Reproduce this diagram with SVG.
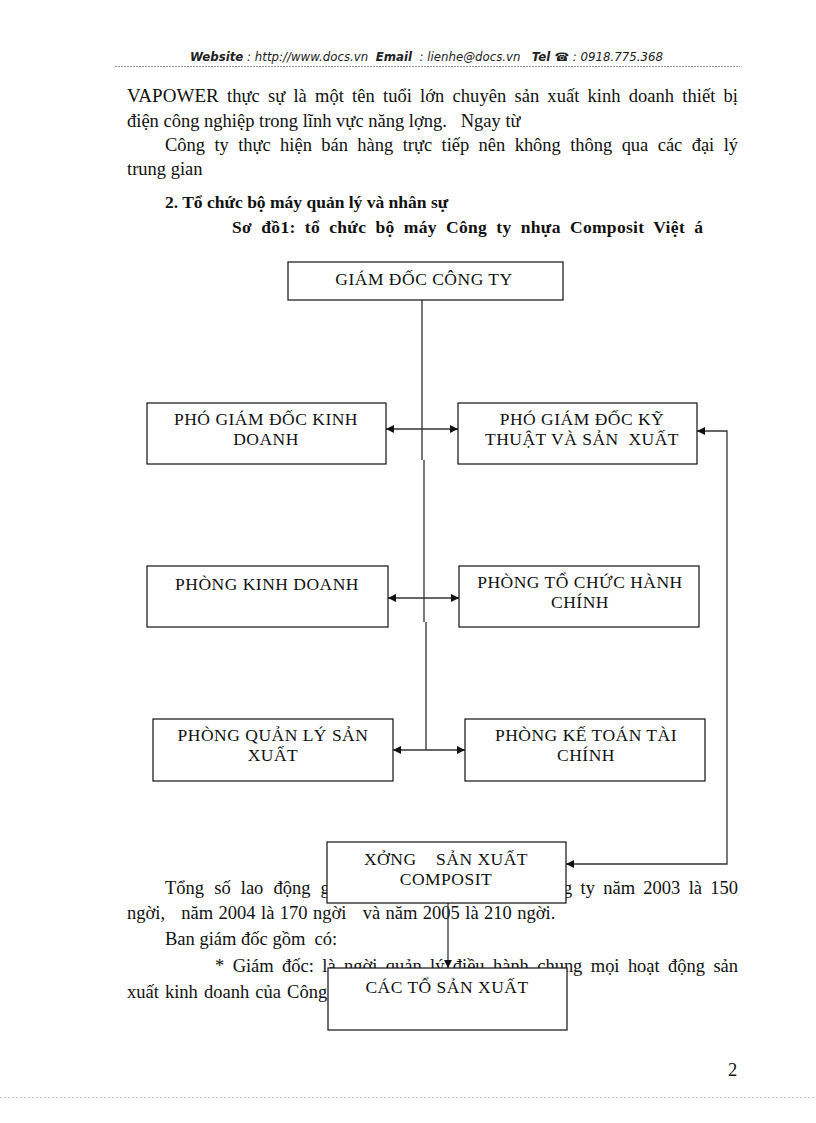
<svg xmlns="http://www.w3.org/2000/svg" width="816" height="1123" viewBox="0 0 816 1123">
<style>
.hdr{font-family:"DejaVu Sans",Verdana,sans-serif;font-size:11.5px;font-style:italic;fill:#222}
.hb{font-weight:bold}
.body{font-family:"Liberation Serif","Times New Roman",serif;font-size:18.5px;fill:#111}
.bold{font-weight:bold;font-size:17.5px}
.box{fill:#fff;stroke:#111;stroke-width:1.2}
.lbl{font-family:"Liberation Serif","Times New Roman",serif;font-size:17.5px;letter-spacing:0.5px;fill:#111;text-anchor:middle}
.con{fill:none;stroke:#333;stroke-width:1.3}
</style>
<defs>
<marker id="ah" viewBox="0 0 10 10" refX="10" refY="5" markerWidth="9" markerHeight="8" markerUnits="userSpaceOnUse" orient="auto-start-reverse">
<path d="M0,0 L10,5 L0,10 z" fill="#111"/>
</marker>
</defs>
<rect width="816" height="1123" fill="#fff"/>
<g id="header">
<text class="hdr" x="190" y="61" textLength="473" lengthAdjust="spacingAndGlyphs" xml:space="preserve"><tspan class="hb">Website</tspan> : http://www.docs.vn  <tspan class="hb">Email</tspan>  : lienhe@docs.vn   <tspan class="hb">Tel ☎</tspan> : 0918.775.368</text>
<line x1="115" y1="66.5" x2="740" y2="66.5" stroke="#999" stroke-width="1" stroke-dasharray="2 1"/>
</g>
<g id="body-text">
<text class="body" x="127" y="102" word-spacing="3.5" textLength="611" lengthAdjust="spacing"><tspan font-size="19">VAPOWER</tspan> thực sự là một tên tuổi lớn chuyên sản xuất kinh doanh thiết bị</text>
<text class="body" x="127" y="127" xml:space="preserve">điện công nghiệp trong lĩnh vực năng lợng.   Ngay từ</text>
<text class="body" x="165" y="151" word-spacing="4.8" textLength="573" lengthAdjust="spacing">Công ty thực hiện bán hàng trực tiếp nên không thông qua các đại lý</text>
<text class="body" x="127" y="175">trung gian</text>
<text class="body bold" x="165" y="208">2. Tổ chức bộ máy quản lý và nhân sự</text>
<text class="body bold" x="232" y="233" word-spacing="4.5" textLength="471" lengthAdjust="spacing">Sơ đồ1: tổ chức bộ máy Công ty nhựa Composit Việt á</text>
<text class="body" x="165" y="894" word-spacing="5.5">Tổng số lao động g</text>
<text class="body" x="563" y="894" word-spacing="3.7" textLength="175" lengthAdjust="spacing">g ty năm 2003 là 150</text>
<text class="body" x="127" y="919" xml:space="preserve" word-spacing="0.8">ngời,   năm 2004 là 170 ngời   và năm 2005 là 210 ngời.</text>
<text class="body" x="165" y="945" xml:space="preserve">Ban giám đốc gồm  có:</text>
<text class="body" x="215" y="972" word-spacing="3.8" textLength="523" lengthAdjust="spacing">* Giám đốc: là ngời quản lý điều hành chung mọi hoạt động sản</text>
<text class="body" x="127" y="998" word-spacing="1.5">xuất kinh doanh của Công</text>
<text class="body" x="728" y="1076">2</text>
<line x1="0" y1="1097.5" x2="816" y2="1097.5" stroke="#ccc" stroke-width="1" stroke-dasharray="2 2"/>
</g>
<g id="connectors">
<path class="con" d="M422,300 V460 M424,460 V622 M426,622 V750"/>
<line class="con" x1="386" y1="429" x2="458" y2="429" marker-start="url(#ah)" marker-end="url(#ah)"/>
<line class="con" x1="388" y1="598" x2="459" y2="598" marker-start="url(#ah)" marker-end="url(#ah)"/>
<line class="con" x1="393" y1="750" x2="465" y2="750" marker-start="url(#ah)" marker-end="url(#ah)"/>
<path class="con" d="M697,431 H727 V864 H566" marker-start="url(#ah)" marker-end="url(#ah)"/>
<line class="con" x1="448" y1="903" x2="448" y2="968" marker-end="url(#ah)"/>
</g>
<g id="node-gd"><rect class="box" x="288" y="262" width="275" height="38"/><text class="lbl" x="424" y="285">GIÁM ĐỐC CÔNG TY</text></g>
<g id="node-pgd-kd"><rect class="box" x="147" y="403" width="239" height="61"/><text class="lbl" x="266" y="425">PHÓ GIÁM ĐỐC KINH<tspan x="266" dy="19.5">DOANH</tspan></text></g>
<g id="node-pgd-kt"><rect class="box" x="458" y="403" width="239" height="61"/><text class="lbl" x="582" y="425" xml:space="preserve">PHÓ GIÁM ĐỐC KỸ<tspan x="582" dy="19.5">THUẬT VÀ SẢN  XUẤT</tspan></text></g>
<g id="node-p-kd"><rect class="box" x="147" y="566" width="241" height="61"/><text class="lbl" x="267" y="590">PHÒNG KINH DOANH</text></g>
<g id="node-p-tchc"><rect class="box" x="459" y="566" width="240" height="61"/><text class="lbl" x="580" y="588">PHÒNG TỔ CHỨC HÀNH<tspan x="580" dy="19.5">CHÍNH</tspan></text></g>
<g id="node-p-qlsx"><rect class="box" x="153" y="719" width="240" height="62"/><text class="lbl" x="273" y="741">PHÒNG QUẢN LÝ SẢN<tspan x="273" dy="19.5">XUẤT</tspan></text></g>
<g id="node-p-kttc"><rect class="box" x="465" y="719" width="240" height="62"/><text class="lbl" x="586" y="741">PHÒNG KẾ TOÁN TÀI<tspan x="586" dy="19.5">CHÍNH</tspan></text></g>
<g id="node-xuong"><rect class="box" x="327" y="842" width="239" height="61"/><text class="lbl" x="446" y="865" xml:space="preserve">XỞNG    SẢN XUẤT<tspan x="446" dy="19.5">COMPOSIT</tspan></text></g>
<g id="node-cac-to"><rect class="box" x="328" y="968" width="239" height="62"/><text class="lbl" x="447" y="993">CÁC TỔ SẢN XUẤT</text></g>
</svg>
